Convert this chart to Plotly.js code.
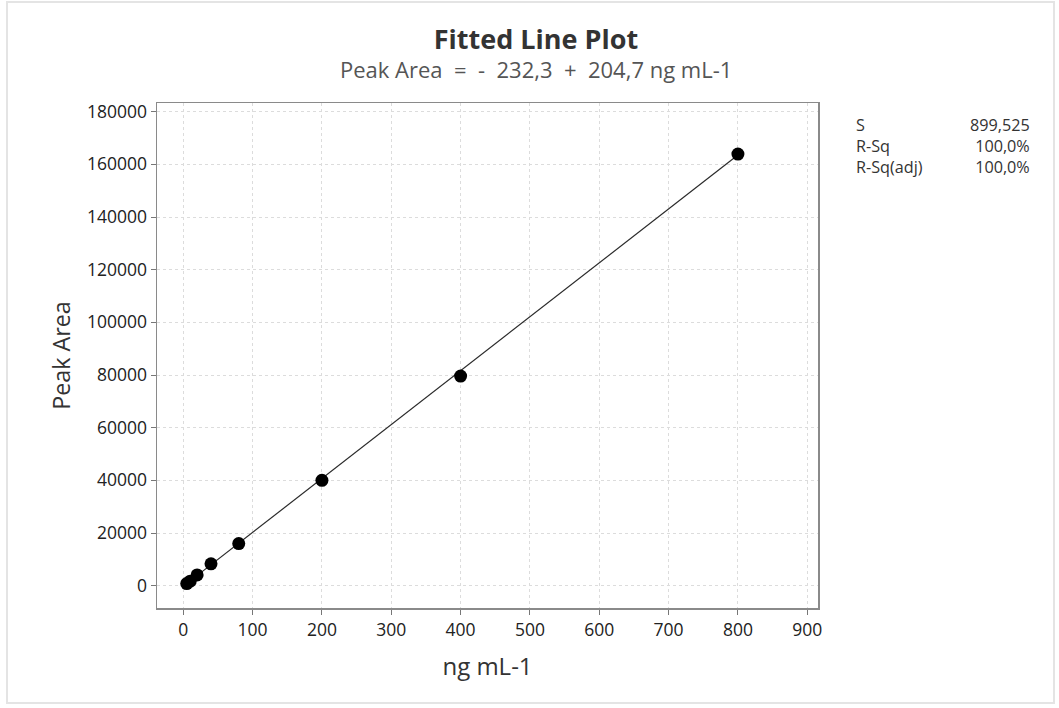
<!DOCTYPE html>
<html>
<head>
<meta charset="utf-8">
<script src="https://cdn.plot.ly/plotly-3.0.1.min.js"></script>
<style>
  html, body { margin: 0; padding: 0; background: #fff; }
  #frame { position: absolute; left: 6px; top: 1px; width: 1049px; height: 703px; border: 2px solid #e4e4e4; box-sizing: border-box; }
  #chart { position: absolute; left: 0; top: 0; width: 1059px; height: 708px; }
</style>
</head>
<body>
<div id="frame"></div>
<div id="chart"></div>
<script>
// Data
const concentration = [5, 10, 20, 40, 80, 200, 400, 800];
const peakArea = [800, 1700, 4100, 8300, 16000, 40000, 79600, 163900];

// Fitted regression (from the chart subtitle)
const intercept = -232.3;
const slope = 204.7;

// Summary statistics
const statLabels = ["S", "R-Sq", "R-Sq(adj)"];
const statValues = ["899,525", "100,0%", "100,0%"];

const xTicks = [0, 100, 200, 300, 400, 500, 600, 700, 800, 900];
const yTicks = [0, 20000, 40000, 60000, 80000, 100000, 120000, 140000, 160000, 180000];

const xMin = Math.min(...concentration);
const xMax = Math.max(...concentration);
const fitX = [xMin, xMax];
const fitY = fitX.map(v => intercept + slope * v);

const FONT = "'Open Sans', 'Noto Sans', sans-serif";

const traces = [
  {
    x: fitX, y: fitY, type: 'scatter', mode: 'lines',
    line: { color: '#2b2b2b', width: 1.2 }, hoverinfo: 'skip', showlegend: false
  },
  {
    x: concentration, y: peakArea, type: 'scatter', mode: 'markers',
    marker: { color: '#000', size: 13, symbol: 'circle' }, showlegend: false
  }
];

const annotations = [
  {
    text: 'Peak Area  =  -  232,3  +  204,7 ng mL-1',
    xref: 'paper', yref: 'paper', x: (536 - 157) / 661, y: (608 - 69) / 505,
    xanchor: 'center', yanchor: 'middle', showarrow: false,
    font: { family: FONT, size: 22, color: '#555' }
  },
  {
    text: statLabels.join('<br>'), align: 'left',
    xref: 'paper', yref: 'paper',
    x: (855 - 157) / 661, y: (608 - 146) / 505,
    xanchor: 'left', yanchor: 'middle', showarrow: false, borderpad: 0,
    font: { family: FONT, size: 16.2, color: '#333' }
  },
  {
    text: statValues.join('<br>'), align: 'right',
    xref: 'paper', yref: 'paper',
    x: (1031 - 157) / 661, y: (608 - 146) / 505,
    xanchor: 'right', yanchor: 'middle', showarrow: false, borderpad: 0,
    font: { family: FONT, size: 16.2, color: '#333' }
  }
];

const layout = {
  width: 1059, height: 708,
  paper_bgcolor: 'rgba(0,0,0,0)', plot_bgcolor: '#fff',
  margin: { l: 157, r: 241, t: 103, b: 100 },
  title: {
    text: '<b>Fitted Line Plot</b>',
    x: 536 / 1059, xanchor: 'center', xref: 'container',
    y: 1 - 40 / 708, yanchor: 'middle', yref: 'container',
    font: { family: FONT, size: 27, color: '#333' }
  },
  xaxis: {
    range: [-37.9, 915.5],
    tickvals: xTicks, ticktext: xTicks.map(String),
    ticks: 'outside', ticklen: 5, tickcolor: '#777', tickwidth: 1,
    showline: true, mirror: true, linecolor: '#8a8a8a', linewidth: 1.5,
    showgrid: true, gridcolor: '#dcdcdc', griddash: 'dot', gridwidth: 1,
    zeroline: false,
    tickfont: { family: FONT, size: 17.5, color: '#222' },
    title: { text: 'ng mL-1', font: { family: FONT, size: 24, color: '#333' }, standoff: 18 }
  },
  yaxis: {
    range: [-8470, 183290],
    tickvals: yTicks, ticktext: yTicks.map(String),
    ticks: 'outside', ticklen: 5, tickcolor: '#777', tickwidth: 1,
    showline: true, mirror: true, linecolor: '#8a8a8a', linewidth: 1.5,
    showgrid: true, gridcolor: '#dcdcdc', griddash: 'dot', gridwidth: 1,
    zeroline: false,
    tickfont: { family: FONT, size: 17.5, color: '#222' },
    title: { text: 'Peak Area', font: { family: FONT, size: 23.3, color: '#333' }, standoff: 10 }
  },
  annotations: annotations
};

Plotly.newPlot('chart', traces, layout, { displayModeBar: false, staticPlot: true });
</script>
</body>
</html>
